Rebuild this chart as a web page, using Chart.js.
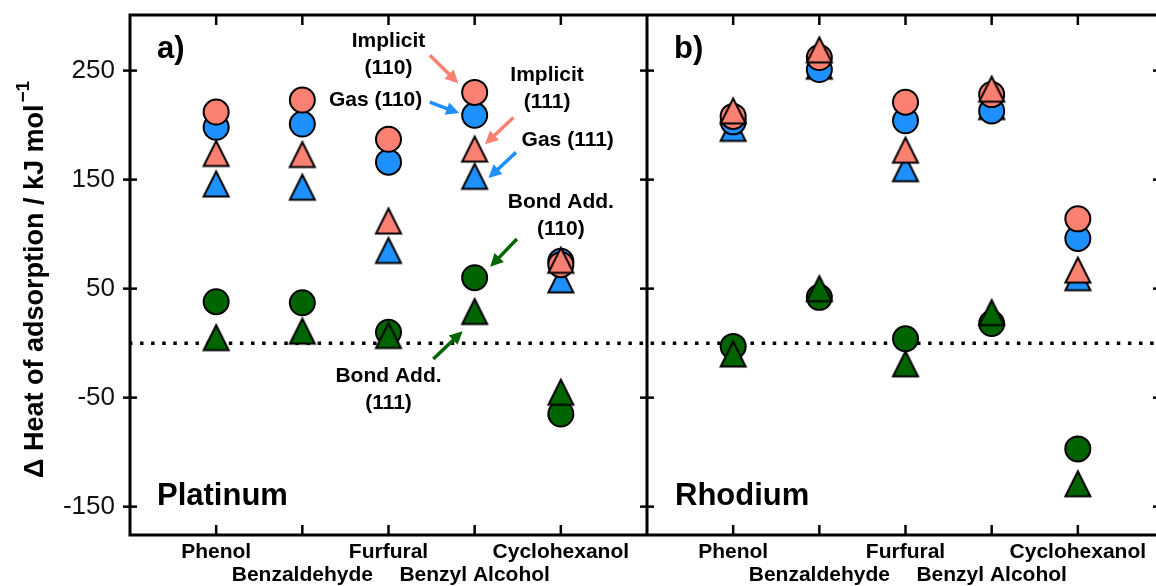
<!DOCTYPE html>
<html>
<head>
<meta charset="utf-8">
<script src="https://cdn.jsdelivr.net/npm/chart.js@4.4.1/dist/chart.umd.min.js"></script>
<style>
  html, body { margin: 0; padding: 0; background: #fff; overflow: hidden; width: 1156px; height: 586px; }
  #wrap { position: relative; width: 1156px; height: 586px; overflow: hidden; }
  #c { position: absolute; left: 0; top: 0; }
</style>
</head>
<body>
<div id="wrap"><canvas id="c" width="1172" height="586"></canvas></div>
<script>
// ---- data (kJ/mol) ----
const categories = ['Phenol', 'Benzaldehyde', 'Furfural', 'Benzyl Alcohol', 'Cyclohexanol'];
const yTickValues = [250, 150, 50, -50, -150];

// Platinum
const ptImplicit110 = [212, 223, 187, 230, 72];
const ptGas110      = [198, 201, 166, 209, 75];
const ptImplicit111 = [174, 173, 112, 178, 76];
const ptGas111      = [146, 143, 85, 153, 58];
const ptBond110     = [38, 37, 10, 60, -65];
const ptBond111     = [5, 11, 7, 29, -45];

// Rhodium
const rhImplicit110 = [208, 262, 221, 228, 114];
const rhGas110      = [203, 251, 204, 213, 96];
const rhImplicit111 = [213, 269, 177, 233, 67];
const rhGas111      = [197, 254, 160, 217, 60];
const rhBond110     = [-3, 42, 4, 18, -97];
const rhBond111     = [-10, 50, -19, 28, -129];

const SALMON = '#FA8072', BLUE = '#1E90FF', GREEN = '#006400';
const FONT = "'Liberation Sans', Arial, Helvetica, sans-serif";

// Upward triangle marker, centred on its bounding box
function triangleMarker(fill) {
  const S = 34, h = 12.5, c = S / 2;
  const cv = document.createElement('canvas');
  cv.width = S; cv.height = S;
  const g = cv.getContext('2d');
  g.beginPath();
  g.moveTo(c, c - h);
  g.lineTo(c + h, c + h);
  g.lineTo(c - h, c + h);
  g.closePath();
  g.fillStyle = fill; g.fill();
  g.lineWidth = 2; g.lineJoin = 'miter'; g.strokeStyle = '#000'; g.stroke();
  return cv;
}
const triSalmon = triangleMarker(SALMON);
const triBlue = triangleMarker(BLUE);
const triGreen = triangleMarker(GREEN);

function series(values, axisId, color, marker, order) {
  return {
    data: values.map((v, i) => ({ x: i + 1, y: v })),
    xAxisID: axisId,
    yAxisID: 'y',
    order: order,
    showLine: false,
    pointStyle: marker,
    pointRadius: 12.5,
    pointHoverRadius: 12.5,
    pointBackgroundColor: color,
    pointBorderColor: '#000',
    pointBorderWidth: 2,
    pointHoverBorderWidth: 2
  };
}

const datasets = [
  series(ptImplicit111, 'xa', SALMON, triSalmon, 0),
  series(ptImplicit110, 'xa', SALMON, 'circle', 1),
  series(ptGas110, 'xa', BLUE, 'circle', 2),
  series(ptGas111, 'xa', BLUE, triBlue, 3),
  series(ptBond111, 'xa', GREEN, triGreen, 4),
  series(ptBond110, 'xa', GREEN, 'circle', 5),
  series(rhImplicit111, 'xb', SALMON, triSalmon, 0),
  series(rhImplicit110, 'xb', SALMON, 'circle', 1),
  series(rhGas110, 'xb', BLUE, 'circle', 2),
  series(rhGas111, 'xb', BLUE, triBlue, 3),
  series(rhBond111, 'xb', GREEN, triGreen, 4),
  series(rhBond110, 'xb', GREEN, 'circle', 5)
];

// Callout texts (data coordinates of the Platinum panel, first line; next lines 27px lower)
const callouts = [
  { lines: ['Implicit', '(110)'], x: 3.0, y: 277 },
  { lines: ['Gas (110)'], x: 2.85, y: 223 },
  { lines: ['Implicit', '(111)'], x: 4.84, y: 246 },
  { lines: ['Gas (111)'], x: 5.08, y: 186 },
  { lines: ['Bond Add.', '(110)'], x: 5.0, y: 129.5 },
  { lines: ['Bond Add.', '(111)'], x: 3.0, y: -30.5 }
];
const arrows = [
  { from: [3.48, 264], to: [3.81, 238.5], color: SALMON },
  { from: [3.48, 221], to: [3.82, 211], color: BLUE },
  { from: [4.45, 207], to: [4.12, 182.5], color: SALMON },
  { from: [4.48, 175], to: [4.16, 151.5], color: BLUE },
  { from: [4.49, 95.5], to: [4.18, 70], color: GREEN },
  { from: [3.52, -14.5], to: [3.86, 11], color: GREEN }
];

function categoryAxis(stackWeight) {
  return {
    type: 'linear',
    position: 'bottom',
    stack: 'panels',
    stackWeight: stackWeight,
    min: 0,
    max: 6,
    grid: { display: false, drawTicks: false },
    border: { display: false },
    afterBuildTicks: s => { s.ticks = categories.map((c, i) => ({ value: i + 1 })); },
    afterFit: s => { s.height = 51; s.paddingLeft = 0; s.paddingRight = 0; },
    ticks: {
      autoSkip: false,
      maxRotation: 0,
      minRotation: 0,
      padding: 6,
      color: '#000',
      font: { family: FONT, size: 21, weight: 'bold', lineHeight: 1.1 },
      callback: v => {
        const name = categories[Math.round(v) - 1] || '';
        return (Math.round(v) % 2 === 0) ? ['', name] : [name];
      }
    }
  };
}

function line(ctx, x1, y1, x2, y2) {
  ctx.beginPath(); ctx.moveTo(x1, y1); ctx.lineTo(x2, y2); ctx.stroke();
}

const framePlugin = {
  id: 'frame',
  beforeDatasetsDraw(chart) {
    const { ctx, chartArea: a } = chart;
    const y0 = chart.scales.y.getPixelForValue(0);
    ctx.save();
    ctx.strokeStyle = '#000';
    ctx.lineWidth = 3.5;
    ctx.setLineDash([3.5, 7.6]);
    ctx.lineDashOffset = -10;
    line(ctx, a.left, y0, a.right, y0);
    ctx.restore();
  },
  afterDatasetsDraw(chart) {
    const { ctx, chartArea: a } = chart;
    const xa = chart.scales.xa, xb = chart.scales.xb, y = chart.scales.y;
    const mid = xa.right;
    ctx.save();
    ctx.strokeStyle = '#000';
    ctx.lineCap = 'butt';

    // ticks
    ctx.lineWidth = 2.5;
    [xa, xb].forEach(s => {
      s.ticks.forEach(t => {
        const px = s.getPixelForValue(t.value);
        line(ctx, px, a.top, px, a.top + 10);
        line(ctx, px, a.bottom - 10, px, a.bottom);
      });
    });
    yTickValues.forEach(v => {
      const py = y.getPixelForValue(v);
      line(ctx, a.left - 7, py, a.left + 7, py);
      line(ctx, mid - 7, py, mid + 7, py);
      line(ctx, a.right - 11, py, a.right, py);
    });

    // frame and panel divider
    ctx.lineWidth = 3;
    ctx.strokeRect(a.left, a.top, a.right - a.left, a.bottom - a.top);
    line(ctx, mid, a.top, mid, a.bottom);

    // arrows
    arrows.forEach(ar => {
      const x1 = xa.getPixelForValue(ar.from[0]), y1 = y.getPixelForValue(ar.from[1]);
      const x2 = xa.getPixelForValue(ar.to[0]), y2 = y.getPixelForValue(ar.to[1]);
      const ang = Math.atan2(y2 - y1, x2 - x1);
      const head = 13, half = 6.5;
      const bx = x2 - head * Math.cos(ang), by = y2 - head * Math.sin(ang);
      ctx.strokeStyle = ar.color;
      ctx.fillStyle = ar.color;
      ctx.lineWidth = 3.5;
      line(ctx, x1, y1, bx + 2 * Math.cos(ang), by + 2 * Math.sin(ang));
      ctx.beginPath();
      ctx.moveTo(x2, y2);
      ctx.lineTo(bx - half * Math.sin(ang), by + half * Math.cos(ang));
      ctx.lineTo(bx + half * Math.sin(ang), by - half * Math.cos(ang));
      ctx.closePath();
      ctx.fill();
    });

    // callout labels
    ctx.fillStyle = '#000';
    ctx.font = `bold 21px ${FONT}`;
    ctx.textAlign = 'center';
    ctx.textBaseline = 'middle';
    callouts.forEach(c => {
      const px = xa.getPixelForValue(c.x);
      const py = y.getPixelForValue(c.y);
      c.lines.forEach((t, i) => ctx.fillText(t, px, py + i * 27));
    });

    // panel letters and metal names
    ctx.font = `bold 31px ${FONT}`;
    ctx.textAlign = 'left';
    ctx.fillText('a)', xa.left + 27, a.top + 34);
    ctx.fillText('b)', xb.left + 27, a.top + 34);
    ctx.fillText('Platinum', xa.left + 27, a.bottom - 39);
    ctx.fillText('Rhodium', xb.left + 28, a.bottom - 39);
    ctx.restore();
  },
  afterDraw(chart) {
    const { ctx } = chart;
    ctx.save();
    ctx.translate(43, 478);
    ctx.rotate(-Math.PI / 2);
    ctx.fillStyle = '#000';
    ctx.textAlign = 'left';
    ctx.textBaseline = 'alphabetic';
    ctx.font = `bold 27px ${FONT}`;
    const main = '\u0394 Heat of adsorption / kJ mol';
    ctx.fillText(main, 0, 0);
    const w = ctx.measureText(main).width;
    ctx.font = `bold 19px ${FONT}`;
    ctx.fillText('\u22121', w + 2, -14);
    ctx.restore();
  }
};

new Chart(document.getElementById('c'), {
  type: 'scatter',
  data: { datasets },
  options: {
    responsive: false,
    animation: false,
    events: [],
    layout: { autoPadding: false, padding: { top: 15, right: 8, left: 0, bottom: 0 } },
    plugins: { legend: { display: false }, tooltip: { enabled: false } },
    scales: {
      xa: categoryAxis(1),
      xb: categoryAxis(1),
      y: {
        type: 'linear',
        position: 'left',
        min: -176,
        max: 301,
        grid: { display: false, drawTicks: false },
        border: { display: false },
        afterBuildTicks: s => { s.ticks = yTickValues.map(v => ({ value: v })); },
        afterFit: s => { s.width = 130; s.paddingTop = 0; s.paddingBottom = 0; },
        ticks: {
          padding: 15,
          color: '#111',
          font: { family: FONT, size: 26 },
          callback: v => String(v)
        }
      }
    }
  },
  plugins: [framePlugin]
});
</script>
</body>
</html>
